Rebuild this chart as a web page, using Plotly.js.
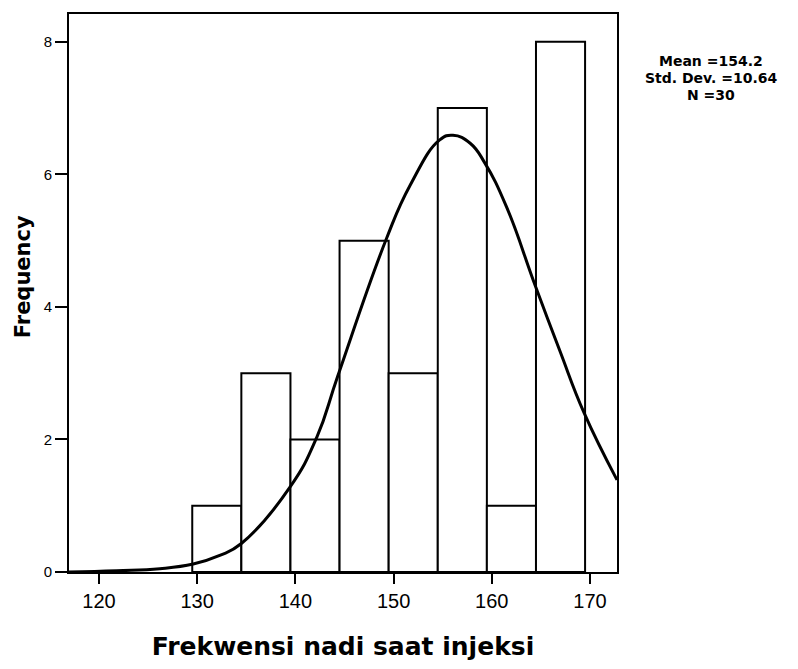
<!DOCTYPE html>
<html>
<head>
<meta charset="utf-8">
<script src="https://cdn.plot.ly/plotly-3.0.1.min.js"></script>
<style>html,body{margin:0;padding:0;background:#fff;}#chart{width:798px;height:669px;}</style>
</head>
<body>
<div id="chart"></div>
<script>
// Histogram bins (centres of 5-unit bins) and counts
const binCenters = [132, 137, 142, 147, 152, 157, 162, 167];
const counts = [1, 3, 2, 5, 3, 7, 1, 8];
const binWidth = 5;
// Normal curve points
const curveX = [116.95, 121.8, 126.2, 129.6, 132.3, 134.5, 139.45, 142.2, 144.3, 149.3, 151.7, 154.7, 156.05, 157.8, 159.3, 161.5, 164.4, 166.9, 169.4, 172.75];
const curveY = [0.0, 0.02, 0.05, 0.12, 0.25, 0.43, 1.28, 2.04, 2.95, 5.04, 5.84, 6.52, 6.59, 6.47, 6.17, 5.51, 4.33, 3.35, 2.40, 1.39];
const xTicks = [120, 130, 140, 150, 160, 170];
const yTicks = [0, 2, 4, 6, 8];
const statsLines = ["Mean =154.2", "Std. Dev. =10.64", "N =30"];

const FONT = "Liberation Sans, Arial, sans-serif";
const WIDE = "DejaVu Sans, Verdana, sans-serif";

const traces = [
  {
    type: "bar",
    x: binCenters,
    y: counts,
    width: binCenters.map(() => binWidth),
    marker: {color: "#ffffff", line: {color: "#000000", width: 2}},
    hoverinfo: "skip"
  },
  {
    type: "scatter",
    mode: "lines",
    x: curveX,
    y: curveY,
    line: {color: "#000000", width: 3, shape: "spline", smoothing: 1.3},
    hoverinfo: "skip"
  }
];

// plot area: x 69..617 px, y 14..572 px
const statYs = [0.916, 0.885, 0.854];
const annotations = statsLines.map((t, i) => ({
  text: t, xref: "paper", yref: "paper", x: 1.172, y: statYs[i],
  xanchor: "center", yanchor: "middle", showarrow: false,
  font: {family: WIDE, size: 14, color: "#000", weight: "bold"}
}));
annotations.push({
  text: "Frequency", xref: "paper", yref: "paper", x: -0.084, y: 0.53,
  xanchor: "center", yanchor: "middle", showarrow: false, textangle: -90,
  font: {family: WIDE, size: 21, color: "#000", weight: "bold"}
});

const layout = {
  width: 798, height: 669,
  margin: {l: 69, r: 181, t: 14, b: 97},
  paper_bgcolor: "#fff", plot_bgcolor: "#fff",
  showlegend: false,
  bargap: 0,
  xaxis: {
    range: [116.95, 172.75],
    tickvals: xTicks, ticktext: xTicks.map(String),
    ticks: "outside", ticklen: 10, tickwidth: 2, tickcolor: "#000",
    showgrid: false, zeroline: false,
    showline: true, linecolor: "#000", linewidth: 2, mirror: true,
    tickfont: {family: FONT, size: 20, color: "#000"},
    title: {text: "Frekwensi nadi saat injeksi", font: {family: WIDE, size: 25, color: "#000", weight: "bold"}, standoff: 26}
  },
  yaxis: {
    range: [0, 8.42],
    tickvals: yTicks, ticktext: yTicks.map(String),
    ticks: "outside", ticklen: 12, tickwidth: 2, tickcolor: "#000",
    showgrid: false, zeroline: false,
    showline: true, linecolor: "#000", linewidth: 2, mirror: true,
    tickfont: {family: FONT, size: 15, color: "#000"}
  },
  annotations: annotations
};

Plotly.newPlot("chart", traces, layout, {displayModeBar: false, staticPlot: true});
</script>
</body>
</html>
